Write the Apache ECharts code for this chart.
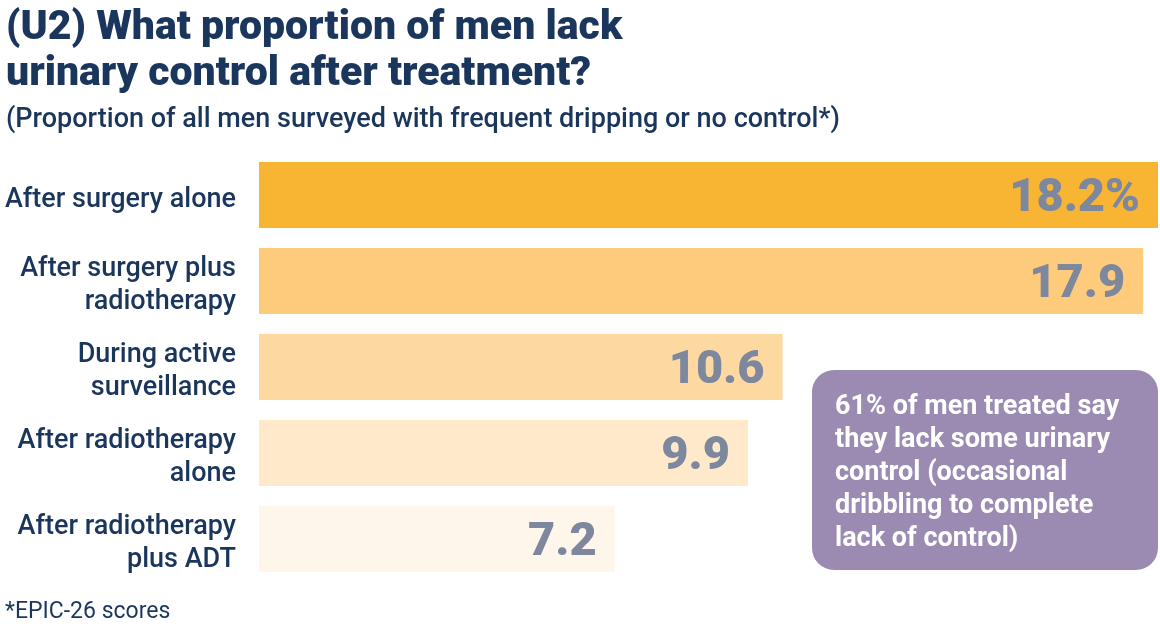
<!DOCTYPE html>
<html><head><meta charset="utf-8">
<script src="https://cdn.jsdelivr.net/npm/echarts@6/dist/echarts.min.js"></script>
<style>html,body{margin:0;padding:0;background:#fff}#c{width:1160px;height:640px}</style>
</head><body><div id="c"></div>
<script>
const categories = ["After surgery alone", "After surgery plus\nradiotherapy", "During active\nsurveillance", "After radiotherapy\nalone", "After radiotherapy\nplus ADT"];
const values = [18.2, 17.9, 10.6, 9.9, 7.2];
const valueLabels = ["18.2%", "17.9", "10.6", "9.9", "7.2"];
const barColors = ["#F8B533", "#FDCB7B", "#FDD9A1", "#FEE9CA", "#FFF6EB"];
const titleText = "(U2) What proportion of men lack\nurinary control after treatment?";
const subtitleText = "(Proportion of all men surveyed with frequent dripping or no control*)";
const footnote = "*EPIC-26 scores";
const calloutText = "61% of men treated say\nthey lack some urinary\ncontrol (occasional\ndribbling to complete\nlack of control)";

const navy = "#1B365D";
const chart = echarts.init(document.getElementById('c'));
chart.setOption({
  animation: false,
  backgroundColor: "#fff",
  textStyle: { fontFamily: "Roboto" },
  title: [
    { text: titleText, left: 1, top: 1, textStyle: { fontFamily: "Roboto", fontWeight: 900, fontSize: 41, lineHeight: 46, color: navy } },
    { text: subtitleText, left: 1, top: 102, textStyle: { fontFamily: "Roboto", fontWeight: 500, fontSize: 27, color: navy } },
    { text: footnote, left: 0, top: 596, textStyle: { fontFamily: "Roboto", fontWeight: 400, fontSize: 23, color: navy } }
  ],
  grid: { left: 259, top: 152, width: 899, height: 430, containLabel: false },
  xAxis: { type: "value", min: 0, max: 18.2, show: false },
  yAxis: {
    type: "category", data: categories, inverse: true,
    axisLine: { show: false }, axisTick: { show: false },
    axisLabel: {
      margin: 23, align: "right",
      formatter: v => '{s| }\n' + v.split('\n').map(l => '{a|' + l + '}').join('\n'),
      rich: {
        s: { fontSize: 1, lineHeight: 10 },
        a: { fontFamily: "Roboto", fontWeight: 500, fontSize: 27, lineHeight: 33, color: navy, align: "right" }
      }
    }
  },
  series: [{
    type: "bar",
    data: values.map((v, i) => ({ value: v, itemStyle: { color: barColors[i] }, label: { formatter: valueLabels[i] } })),
    barWidth: 66,
    label: { show: true, position: "insideRight", distance: 18, offset: [0, 4], fontFamily: "Roboto", fontWeight: 900, fontSize: 47, color: "#7D879E" }
  }],
  graphic: [
    { type: "rect", shape: { x: 812, y: 370, width: 346, height: 200, r: 22 }, style: { fill: "#9B8BB3" } },
    { type: "text", x: 835, y: 391, style: { text: calloutText, fill: "#fff", font: "700 27px Roboto", lineHeight: 33 } }
  ]
});
</script></body></html>
